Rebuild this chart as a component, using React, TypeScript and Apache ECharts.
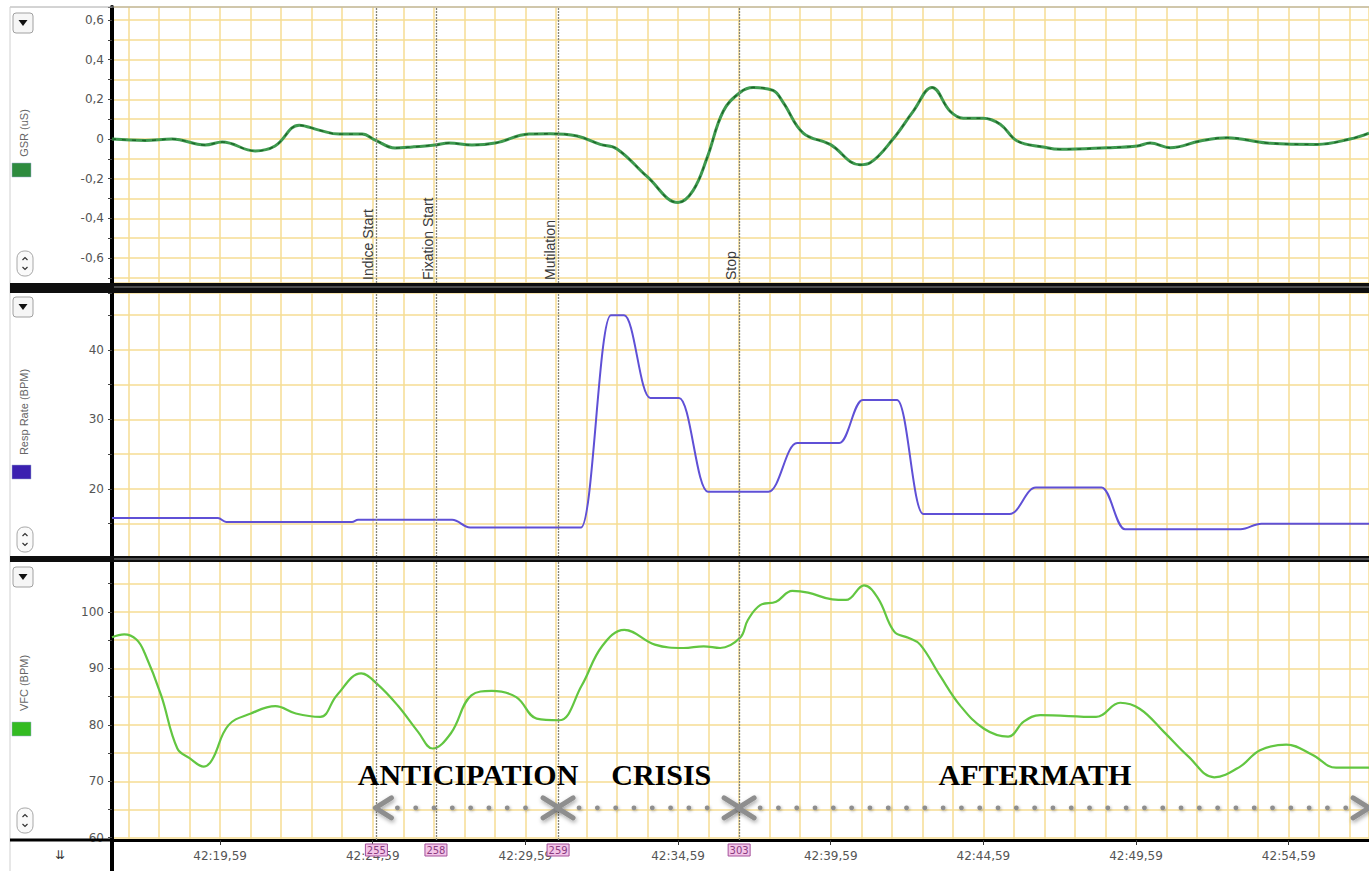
import { useEffect, useRef } from 'react';
import * as echarts from 'echarts';

// time axis: seconds relative to 42:19,59
const xTickTimes = [0, 5, 10, 15, 20, 25, 30, 35];
const xTickLabels = ['42:19,59', '42:24,59', '42:29,59', '42:34,59', '42:39,59', '42:44,59', '42:49,59', '42:54,59'];

const gsrTime = [-3.54, -2.46, -1.57, -0.49, 0.07, 1.15, 1.8, 2.59, 3.24, 3.9, 4.65, 5.08, 5.73, 6.29, 7.04, 7.5, 8.25, 9.01, 10.12, 10.81, 11.69, 12.45, 13.0, 13.99, 15.0, 15.49, 15.95, 16.48, 17.03, 17.46, 18.11, 18.44, 19.1, 19.98, 20.96, 21.29, 22.04, 22.7, 23.32, 23.91, 24.34, 24.99, 25.55, 26.11, 26.96, 27.51, 29.05, 30.04, 30.46, 31.12, 32.1, 32.98, 34.29, 35.93, 37.01, 37.63];
const gsrValue = [0.0, -0.007, 0.0, -0.03, -0.015, -0.06, -0.035, 0.07, 0.045, 0.025, 0.025, -0.005, -0.045, -0.04, -0.03, -0.02, -0.03, -0.02, 0.025, 0.027, 0.015, -0.027, -0.05, -0.19, -0.32, -0.26, -0.095, 0.14, 0.235, 0.26, 0.245, 0.185, 0.03, -0.027, -0.13, -0.12, 0.0, 0.14, 0.26, 0.14, 0.105, 0.105, 0.075, -0.01, -0.04, -0.052, -0.044, -0.035, -0.02, -0.044, -0.01, 0.007, -0.02, -0.027, 0.0, 0.03];

// plateau end-points of the respiration rate trace
const respTime = [-3.54, -0.07, 0.2, 4.32, 4.52, 7.6, 8.19, 11.82, 12.8, 13.23, 14.09, 15.03, 15.98, 17.96, 18.9, 20.28, 21.05, 22.17, 23.03, 25.86, 26.72, 28.87, 29.64, 33.42, 34.11, 37.63];
const respValue = [15.8, 15.8, 15.25, 15.25, 15.55, 15.55, 14.45, 14.45, 45.0, 45.0, 33.1, 33.1, 19.6, 19.6, 26.6, 26.6, 32.8, 32.8, 16.4, 16.4, 20.2, 20.2, 14.2, 14.2, 15.0, 15.0];

const vfcTime = [-3.54, -3.14, -2.74, -2.47, -1.93, -1.4, -1.0, -0.53, -0.26, 0.27, 1.01, 1.81, 2.48, 3.28, 3.82, 4.62, 5.15, 5.82, 6.49, 6.96, 7.56, 8.23, 8.9, 9.7, 10.37, 11.1, 11.84, 12.51, 13.24, 14.24, 15.18, 15.84, 16.38, 17.03, 17.29, 17.69, 18.21, 18.74, 19.26, 20.05, 20.5, 21.09, 21.55, 22.08, 22.54, 22.93, 23.58, 24.24, 25.02, 25.81, 26.33, 26.86, 28.69, 29.48, 30.13, 30.92, 31.71, 32.56, 33.41, 34.06, 34.92, 35.77, 36.55, 37.47, 37.63];
const vfcValue = [95.5, 96.0, 95.1, 92.7, 85.2, 75.8, 74.1, 72.6, 73.8, 79.9, 82.0, 83.3, 82.0, 81.4, 85.2, 89.1, 87.2, 83.4, 78.7, 75.8, 78.5, 85.2, 86.0, 84.9, 81.1, 80.8, 86.9, 93.9, 96.8, 94.2, 93.6, 93.9, 93.6, 95.4, 98.6, 101.2, 101.8, 103.7, 103.4, 102.2, 102.1, 104.7, 102.4, 96.5, 95.4, 94.2, 88.7, 83.4, 79.3, 77.9, 80.6, 81.7, 81.4, 83.9, 82.8, 78.7, 74.4, 70.7, 72.6, 75.5, 76.5, 74.7, 72.4, 72.4, 72.4];

const eventTimes = [5.12, 7.07, 11.07, 17.0];
const eventNames = ['Indice Start', 'Fixation Start', 'Mutilation', 'Stop'];
const eventCodes = ['255', '258', '259', '303'];

const phaseNames = ['ANTICIPATION', 'CRISIS', 'AFTERMATH'];
const phaseBounds = [5.12, 11.07, 17.0, 37.6];
const phaseLabelTimes = [8.12, 14.45, 26.69];
const phaseLabelValue = 71.2;
const phaseArrowValue = 65.3;

const X_MIN = -3.54;
const X_MAX = 37.63;
const GRID_COLOR = '#f6dc93';
const LABEL_FONT = 'DejaVu Sans';

const pairs = (t: number[], v: number[]) => t.map((x, i) => [x, v[i]]);

export default function App() {
  const ref = useRef<HTMLDivElement>(null);
  useEffect(() => {
    const el = ref.current!;
    const chart = echarts.init(el, null, { renderer: 'svg' });

    const grids = [
      { left: 112, right: 0, top: 7, height: 276 },
      { left: 112, right: 0, top: 293, height: 264 },
      { left: 112, right: 0, top: 561, height: 279 },
    ].map((g) => ({ ...g, outerBoundsMode: 'none', containLabel: false }));

    const gridX = (gi: number) => ({
      type: 'value', gridIndex: gi, min: X_MIN, max: X_MAX, splitNumber: 41, position: 'top',
      axisLine: { show: false }, axisTick: { show: false }, axisLabel: { show: false },
      splitLine: { show: true, lineStyle: { color: GRID_COLOR, width: 1.5 } },
    });

    const yAxis = (gi: number, min: number, max: number, splitNumber: number, fmt: (v: number) => string) => ({
      type: 'value', gridIndex: gi, min, max, splitNumber,
      axisLine: { show: true, onZero: false, lineStyle: { color: '#000', width: 4 } },
      axisTick: { show: true, length: 4, lineStyle: { color: '#444', width: 1 } },
      axisLabel: { show: true, formatter: fmt, fontFamily: LABEL_FONT, fontSize: 12, color: '#555', margin: 8 },
      splitLine: { show: true, lineStyle: { color: GRID_COLOR, width: 1.5 } },
    });

    const gsrFmt = (v: number) => {
      const k = Math.round(v * 10);
      if (Math.abs(v * 10 - k) > 1e-6 || k % 2 !== 0) return '';
      return k === 0 ? '0' : (k / 10).toFixed(1).replace('.', ',');
    };
    const tenFmt = (v: number) => {
      const k = Math.round(v / 10);
      if (Math.abs(v - k * 10) > 1e-6) return '';
      return String(k * 10);
    };

    const eventMark = {
      silent: true, symbol: ['none', 'none'],
      label: { show: false },
      lineStyle: { color: '#85857a', width: 1.3, type: [2, 1] },
      data: eventTimes.map((t) => ({ xAxis: t })),
    };

    const option: any = {
      animation: false,
      backgroundColor: '#ffffff',
      grid: grids,
      xAxis: [
        gridX(0), gridX(1), gridX(2),
        {
          type: 'value', gridIndex: 2, min: X_MIN, max: X_MAX, position: 'bottom',
          axisLine: { show: true, onZero: false, lineStyle: { color: '#000', width: 3 } },
          axisTick: { show: true, customValues: xTickTimes, length: 5, lineStyle: { color: '#333', width: 1 } },
          axisLabel: {
            show: true, customValues: xTickTimes, margin: 10, fontFamily: LABEL_FONT, fontSize: 12, color: '#555',
            formatter: (v: number) => {
              const i = xTickTimes.findIndex((t) => Math.abs(t - v) < 1e-6);
              return i >= 0 ? xTickLabels[i] : '';
            },
          },
          splitLine: { show: false },
        },
      ],
      yAxis: [
        yAxis(0, -0.726, 0.666, 14, gsrFmt),
        yAxis(1, 10.2, 48.2, 8, tenFmt),
        yAxis(2, 59.6, 109.0, 10, tenFmt),
      ],
      series: [
        {
          name: 'GSR (uS)', type: 'line', xAxisIndex: 0, yAxisIndex: 0, data: pairs(gsrTime, gsrValue),
          smooth: 0.4, showSymbol: false, lineStyle: { color: '#3e9a4f', width: 3 }, z: 3,
          markLine: eventMark,
        },
        {
          name: 'GSR overlay', type: 'line', xAxisIndex: 0, yAxisIndex: 0, data: pairs(gsrTime, gsrValue),
          smooth: 0.4, showSymbol: false, lineStyle: { color: '#1d6529', width: 1.4, type: [4, 6] }, z: 4,
        },
        {
          name: 'Resp Rate (BPM)', type: 'line', xAxisIndex: 1, yAxisIndex: 1, data: pairs(respTime, respValue),
          smooth: 0.4, smoothMonotone: 'x', showSymbol: false, lineStyle: { color: '#5f50d6', width: 2 }, z: 3,
          markLine: eventMark,
        },
        {
          name: 'VFC (BPM)', type: 'line', xAxisIndex: 2, yAxisIndex: 2, data: pairs(vfcTime, vfcValue),
          smooth: 0.4, showSymbol: false, lineStyle: { color: '#62c641', width: 2.2 }, z: 3,
          markLine: eventMark,
        },
      ],
    };
    chart.setOption(option);

    const px = (gi: number, t: number, v: number) =>
      chart.convertToPixel({ xAxisIndex: gi, yAxisIndex: gi }, [t, v]) as number[];

    const G: any[] = [];
    const Z = 60;
    // frame lines
    G.push({ type: 'line', z: Z, shape: { x1: 10, y1: 7, x2: 1369, y2: 7 }, style: { stroke: '#a8a8a8', lineWidth: 1 } });
    G.push({ type: 'line', z: Z, shape: { x1: 10, y1: 7, x2: 10, y2: 871 }, style: { stroke: '#d0d0d0', lineWidth: 1 } });
    // separators
    G.push({ type: 'rect', z: Z, shape: { x: 10, y: 283, width: 1359, height: 10 }, style: { fill: '#0e0e0e' } });
    G.push({ type: 'line', z: Z + 1, shape: { x1: 114, y1: 287, x2: 1369, y2: 287 }, style: { stroke: '#8c8c8c', lineWidth: 1.2 } });
    G.push({ type: 'rect', z: Z, shape: { x: 10, y: 556, width: 1359, height: 6 }, style: { fill: '#0e0e0e' } });
    G.push({ type: 'line', z: Z + 1, shape: { x1: 114, y1: 559, x2: 1369, y2: 559 }, style: { stroke: '#8c8c8c', lineWidth: 1 } });
    // bottom axis extension & vertical bar
    G.push({ type: 'rect', z: Z, shape: { x: 10, y: 838.5, width: 102, height: 3 }, style: { fill: '#000' } });
    G.push({ type: 'rect', z: Z, shape: { x: 110, y: 838, width: 4, height: 33 }, style: { fill: '#000' } });

    // left panel buttons
    const dropBtn = (y: number) => {
      G.push({ type: 'rect', z: Z, shape: { x: 13, y, width: 20, height: 20, r: 3 }, style: { fill: '#f6f6f6', stroke: '#a0a0a0', lineWidth: 1 } });
      G.push({ type: 'polygon', z: Z + 1, shape: { points: [[18.5, y + 7], [27.5, y + 7], [23, y + 13]] }, style: { fill: '#111' } });
    };
    const scrollBtn = (y: number) => {
      G.push({ type: 'rect', z: Z, shape: { x: 17, y, width: 16, height: 25, r: 7 }, style: { fill: '#fafafa', stroke: '#a8a8a8', lineWidth: 1 } });
      G.push({ type: 'polyline', z: Z + 1, shape: { points: [[22.5, y + 9], [25, y + 6.5], [27.5, y + 9]] }, style: { stroke: '#333', lineWidth: 1.2, fill: null } });
      G.push({ type: 'polyline', z: Z + 1, shape: { points: [[22.5, y + 16], [25, y + 18.5], [27.5, y + 16]] }, style: { stroke: '#333', lineWidth: 1.2, fill: null } });
    };
    dropBtn(13); dropBtn(297); dropBtn(567);
    scrollBtn(251); scrollBtn(527); scrollBtn(808);

    // axis names and swatches
    const nameFont = '11px "Liberation Sans", Arial, sans-serif';
    const names = [
      { text: 'GSR (uS)', y: 133, sy: 163, color: '#2e8b3e' },
      { text: 'Resp Rate (BPM)', y: 412, sy: 465, color: '#3a20b0' },
      { text: 'VFC (BPM)', y: 683, sy: 722, color: '#33bb22' },
    ];
    names.forEach((n) => {
      G.push({ type: 'text', z: Z, x: 24, y: n.y, rotation: Math.PI / 2, style: { text: n.text, font: nameFont, fill: '#666', align: 'center', verticalAlign: 'middle' } });
      G.push({ type: 'rect', z: Z, shape: { x: 12, y: n.sy, width: 19, height: 14 }, style: { fill: n.color, stroke: '#9ac', lineWidth: 0.5 } });
    });
    G.push({ type: 'text', z: Z, x: 60, y: 855, style: { text: '⇊', font: '12px "DejaVu Sans"', fill: '#333', align: 'center', verticalAlign: 'middle' } });

    // event labels + code boxes
    const gsrBottom = px(0, 0, -0.726)[1];
    const axisBottom = px(2, 0, 59.6)[1];
    eventTimes.forEach((t, i) => {
      const x = px(0, t, 0)[0];
      G.push({ type: 'text', z: Z, x: x - 1, y: gsrBottom - 3, rotation: Math.PI / 2, style: { text: eventNames[i], font: '14px "Liberation Sans", Arial, sans-serif', fill: '#3a3a3a', align: 'left', verticalAlign: 'bottom' } });
      G.push({ type: 'rect', z: Z + 2, shape: { x: x - 11, y: axisBottom + 4, width: 22, height: 12 }, style: { fill: '#f3c5e8', stroke: '#a5509b', lineWidth: 1 } });
      G.push({ type: 'text', z: Z + 3, x, y: axisBottom + 10.5, style: { text: eventCodes[i], font: '10px "DejaVu Sans"', fill: '#8a3a80', align: 'center', verticalAlign: 'middle' } });
    });

    // phase labels
    phaseNames.forEach((name, i) => {
      const [x, y] = px(2, phaseLabelTimes[i], phaseLabelValue);
      G.push({ type: 'text', z: Z + 5, x, y, style: { text: name, font: 'bold 30px "Liberation Serif", "Times New Roman", serif', fill: '#000', align: 'center', verticalAlign: 'middle' } });
    });

    // phase arrows
    const shadow = { shadowBlur: 4, shadowColor: 'rgba(0,0,0,0.35)', shadowOffsetX: 1, shadowOffsetY: 2 };
    const arrowStyle = { stroke: '#8e8e8e', lineWidth: 5, fill: null, lineCap: 'round', lineJoin: 'round', ...shadow };
    for (let i = 0; i < phaseNames.length; i++) {
      const [a, y] = px(2, phaseBounds[i], phaseArrowValue);
      const b = px(2, phaseBounds[i + 1], phaseArrowValue)[0];
      G.push({ type: 'polyline', z: Z + 4, shape: { points: [[a + 15, y - 10], [a - 1, y], [a + 15, y + 10]] }, style: arrowStyle });
      G.push({ type: 'polyline', z: Z + 4, shape: { points: [[b - 15, y - 10], [b + 1, y], [b - 15, y + 10]] }, style: arrowStyle });
      for (let d = a + 21; d <= b - 19; d += 18.3) {
        G.push({ type: 'circle', z: Z + 4, shape: { cx: d, cy: y, r: 2.4 }, style: { fill: '#8e8e8e', shadowBlur: 3, shadowColor: 'rgba(0,0,0,0.3)', shadowOffsetX: 1, shadowOffsetY: 1 } });
      }
    }

    chart.setOption({ graphic: G });

    return () => chart.dispose();
  }, []);

  return <div ref={ref} style={{ position: 'fixed', left: 0, top: 0, width: 1369, height: 871, background: '#fff' }} />;
}
